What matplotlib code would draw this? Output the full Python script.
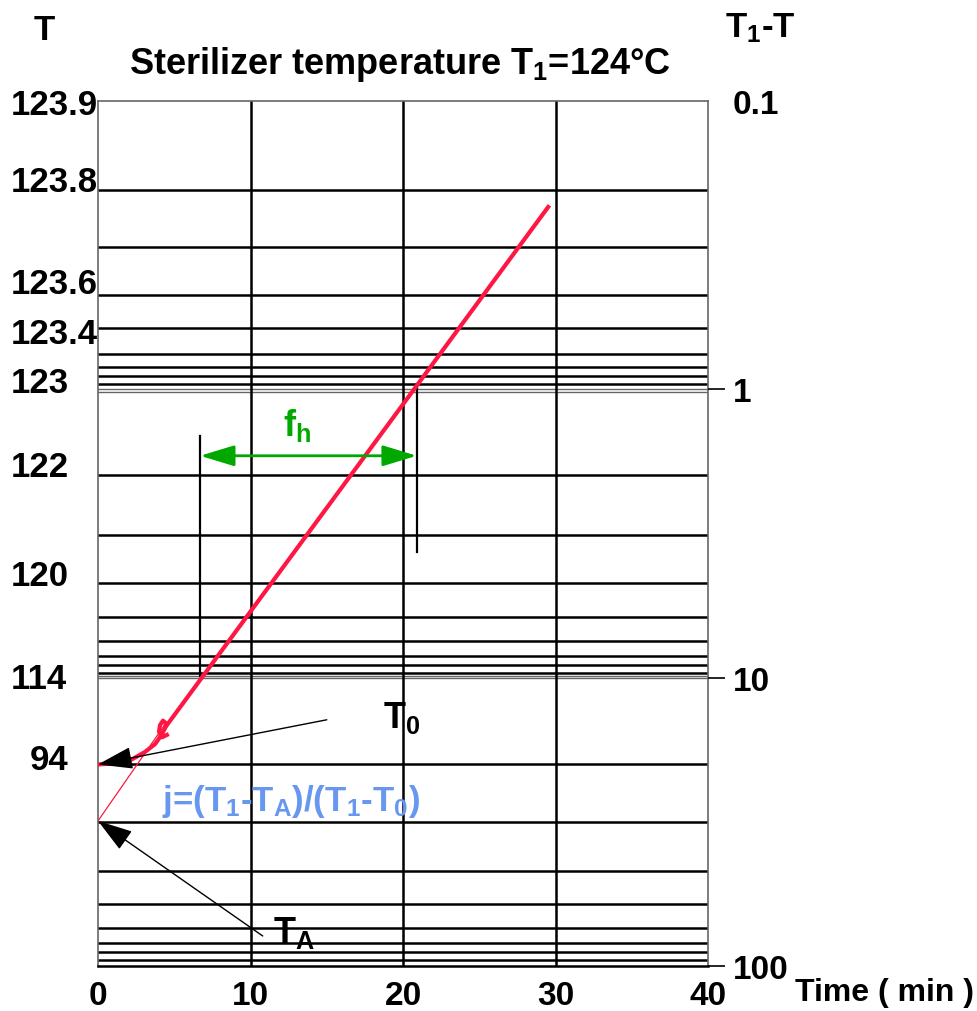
import matplotlib

matplotlib.use("Agg")
import matplotlib.pyplot as plt
import matplotlib.transforms as mtransforms

plt.rcParams["font.family"] = ["Liberation Sans", "DejaVu Sans"]
plt.rcParams["font.weight"] = "bold"
plt.rcParams["mathtext.fontset"] = "custom"
plt.rcParams["mathtext.rm"] = "Liberation Sans:bold"
plt.rcParams["mathtext.it"] = "Liberation Sans:bold"
plt.rcParams["mathtext.bf"] = "Liberation Sans:bold"
plt.rcParams["mathtext.default"] = "rm"

# tiempo (min) y diferencia T1-T
t_recta = [4.4, 29.6]
dif_recta = [14.9, 0.23]
t_extrap = [0.0, 4.4]
dif_extrap = [31.4, 14.5]
t_inicio = [0.0, 1.31, 2.23, 3.08, 3.74, 4.13, 4.39, 4.46, 4.26, 4.07, 4.0, 4.2, 4.52]
dif_inicio = [20.0, 19.8, 19.2, 18.1, 17.0, 15.9, 15.0, 14.4, 14.1, 14.6, 15.4, 16.1, 15.8]

# lineas horizontales de la rejilla (papel semilogaritmico dibujado a mano)
lineas_dif = [0.203, 0.32, 0.47, 0.614, 0.754, 0.839, 0.901, 0.961,
              1.99, 3.19, 4.69, 6.15, 7.46, 8.40, 9.02, 9.62,
              19.9, 31.6, 46.7, 61.0, 73.7, 83.1, 89.3, 95.4]
lineas_dobles = [1.0, 1.02, 9.87, 10.05]
lineas_t = [10, 20, 30]

# escala de temperaturas a la izquierda
etiquetas_T = ["123.9", "123.8", "123.6", "123.4", "123", "122", "120", "114", "94"]
pos_T = [0.103, 0.19, 0.43, 0.64, 0.95, 1.85, 4.44, 10.1, 19.3]

ticks_t = [0, 10, 20, 30, 40]
ticks_dif = [0.1, 1, 10, 100]
etiquetas_dif = ["0.1", "1", "10", "100"]

# f_h: marcas verticales y flecha
t_fh = [6.7, 20.9]
dif_fh = 1.70
marca_izq = [1.45, 9.9]
marca_der = [0.958, 3.67]

ROJO = "#ff1744"
VERDE = "#00a800"
AZUL = "#6897f0"

fig = plt.figure(figsize=(9.77, 10.12), dpi=100)
ax = fig.add_axes([0.1003, 0.0445, 0.6244, 0.8547])
ax.set_yscale("log")
ax.set_xlim(0, 40)
ax.set_ylim(100, 0.1)

for v in lineas_dif:
    ax.axhline(v, color="black", lw=1.8, zorder=1)
for v in lineas_dobles:
    ax.axhline(v, color="#666666", lw=1.0, zorder=1)
for t in lineas_t:
    ax.axvline(t, color="black", lw=1.8, zorder=1)

for lado in ["left", "top", "right"]:
    ax.spines[lado].set_color("#666666")
    ax.spines[lado].set_linewidth(1.2)
ax.spines["bottom"].set_color("black")
ax.spines["bottom"].set_linewidth(1.8)

ax.set_xticks(ticks_t)
ax.set_xticklabels([str(t) for t in ticks_t], fontsize=24, fontweight="bold")
ax.tick_params(axis="x", length=0, pad=10)
ax.set_yticks([])
ax.yaxis.set_minor_locator(matplotlib.ticker.NullLocator())

# curva de penetracion de calor
ax.plot(t_recta, dif_recta, color=ROJO, lw=3, solid_capstyle="butt", zorder=3)
ax.plot(t_extrap, dif_extrap, color=ROJO, lw=0.9, zorder=3)
ax.plot(t_inicio, dif_inicio, color=ROJO, lw=3, zorder=3)

# f_h
ax.plot([t_fh[0], t_fh[0]], marca_izq, color="black", lw=1.6, zorder=2)
ax.plot([t_fh[1], t_fh[1]], marca_der, color="black", lw=1.6, zorder=2)
ax.annotate("", xy=(t_fh[1], dif_fh), xytext=(t_fh[0], dif_fh),
            arrowprops=dict(arrowstyle="<|-|>,head_length=1.05,head_width=0.32",
                            mutation_scale=20, color=VERDE, lw=2, shrinkA=0, shrinkB=0),
            zorder=4)
ax.text(13.05, 1.32, "f$_h$", color=VERDE, fontsize=26, ha="center", va="center")

# T0 y TA
ax.annotate("", xy=(0, 20.0), xytext=(15.0, 14.0),
            arrowprops=dict(arrowstyle="-|>,head_length=1.1,head_width=0.35",
                            mutation_scale=20, color="black", lw=1.0, shrinkA=0, shrinkB=0),
            zorder=4)
ax.text(18.7, 13.7, "T$_0$", fontsize=26, ha="left", va="center")
ax.annotate("", xy=(0, 31.4), xytext=(10.8, 78.7),
            arrowprops=dict(arrowstyle="-|>,head_length=1.1,head_width=0.35",
                            mutation_scale=20, color="black", lw=1.0, shrinkA=0, shrinkB=0),
            zorder=4)
ax.text(11.5, 76.0, "T$_A$", fontsize=26, ha="left", va="center")
ax.text(12.66, 26.6, "j=(T$_1$-T$_A$)/(T$_1$-T$_0$)", color=AZUL, fontsize=25,
        ha="center", va="center")

# escala de temperatura a la izquierda
trans_izq = mtransforms.blended_transform_factory(ax.transAxes, ax.transData)
for etiqueta, v in zip(etiquetas_T, pos_T):
    x = -0.112 if etiqueta == "94" else -0.143
    ax.text(x, v, etiqueta, fontsize=25, ha="left", va="center", transform=trans_izq)

# escala T1-T a la derecha
ax2 = ax.twinx()
ax2.set_yscale("log")
ax2.set_ylim(100, 0.1)
ax2.yaxis.set_minor_locator(matplotlib.ticker.NullLocator())
ax2.set_yticks(ticks_dif)
ax2.set_yticklabels(etiquetas_dif, fontsize=24, fontweight="bold")
ax2.tick_params(axis="y", length=12, width=1.2, pad=6)
ax2.yaxis.get_major_ticks()[0].tick2line.set_visible(False)
for lado in ["left", "top", "right", "bottom"]:
    ax2.spines[lado].set_visible(False)

fig.text(400 / 977, 1 - 64 / 1012, "Sterilizer temperature T$_1$=124°C", fontsize=26,
         ha="center", va="center")
fig.text(44.5 / 977, 1 - 30 / 1012, "T", fontsize=25, ha="center", va="center")
fig.text(760 / 977, 1 - 28 / 1012, "T$_1$-T", fontsize=25, ha="center", va="center")
fig.text(795 / 977, 1 - 993 / 1012, "Time ( min )", fontsize=23, ha="left", va="center")

fig.savefig("out.png", dpi=100)
